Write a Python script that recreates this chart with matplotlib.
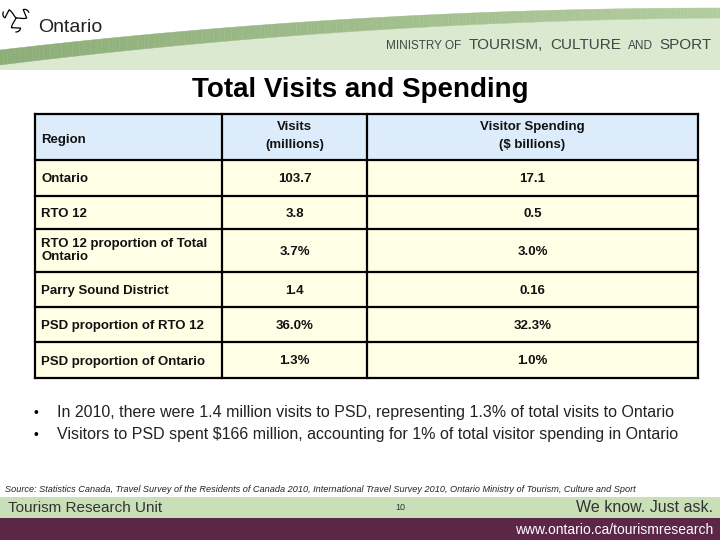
import matplotlib.pyplot as plt
import numpy as np
from matplotlib.patches import Rectangle, Polygon

# table content
col_headers = ["Region", "Visits\n(millions)", "Visitor Spending\n($ billions)"]
regions = ["Ontario", "RTO 12", "RTO 12 proportion of Total\nOntario",
           "Parry Sound District", "PSD proportion of RTO 12", "PSD proportion of Ontario"]
visits = ["103.7", "3.8", "3.7%", "1.4", "36.0%", "1.3%"]
spending = ["17.1", "0.5", "3.0%", "0.16", "32.3%", "1.0%"]

bullets = [
    "In 2010, there were 1.4 million visits to PSD, representing 1.3% of total visits to Ontario",
    "Visitors to PSD spent $166 million, accounting for 1% of total visitor spending in Ontario",
]
source = ("Source: Statistics Canada, Travel Survey of the Residents of Canada 2010, "
          "International Travel Survey 2010, Ontario Ministry of Tourism, Culture and Sport")
ministry = [("MINISTRY OF", 8.5), ("TOURISM,", 11), ("CULTURE", 11), ("AND", 8.5), ("SPORT", 11)]

plt.rcParams['font.family'] = ['Liberation Sans', 'DejaVu Sans']

fig = plt.figure(figsize=(7.2, 5.4), dpi=100)
ax = fig.add_axes([0, 0, 1, 1])
ax.set_xlim(0, 720)
ax.set_ylim(540, 0)
ax.axis("off")
fig.patch.set_facecolor("white")

# --- header banner
x = np.linspace(0, 720, 200)
t = x / 720
y_top = 50 - 42 * (1 - (1 - t) ** 2)
y_bot = y_top + 15 - 5 * t
ax.add_patch(Polygon(np.column_stack([np.r_[x, x[::-1]], np.r_[y_bot, np.full_like(x, 70)]]),
                     closed=True, facecolor="#dae9cf", edgecolor="none"))
c0 = np.array([0.55, 0.68, 0.47])
c1 = np.array([0.70, 0.80, 0.62])
for i in range(len(x) - 1):
    c = c0 + (c1 - c0) * t[i]
    ax.add_patch(Polygon([[x[i], y_top[i]], [x[i + 1], y_top[i + 1]],
                          [x[i + 1], y_bot[i + 1]], [x[i], y_bot[i]]],
                         closed=True, facecolor=c, edgecolor=c, lw=0.3))

# trillium logo (rough outline of three petals)
cx, cy = 16, 18
s = np.linspace(0, np.pi, 40)
for ang in [205, 335, 90]:
    a = np.deg2rad(ang)
    r = 14 * np.sin(s / 2)
    w = 4.5 * np.sin(s) ** 1.2 * np.sign(np.cos(s))
    px = cx + r * np.cos(a) - w * np.sin(a)
    py = cy + r * np.sin(a) + w * np.cos(a)
    ax.plot(px, py, color="black", lw=0.9)
ax.text(38, 27, "Ontario", fontsize=14, va="center", ha="left", color="#222222")

# ministry text, laid out right to left from the right edge
fig.canvas.draw()
renderer = fig.canvas.get_renderer()
xr = 712
for word, fs in reversed(ministry):
    tx = ax.text(xr, 49, word, fontsize=fs, ha="right", va="baseline", color="#444444")
    bb = tx.get_window_extent(renderer)
    xr -= bb.width + 7

# title
ax.text(360, 90, "Total Visits and Spending", fontsize=20, fontweight="bold",
        ha="center", va="center")

# --- table
col_x = [35, 222, 367, 698]
row_y = [114, 160, 196, 229, 272, 307, 342, 378]
ax.add_patch(Rectangle((col_x[0], row_y[0]), col_x[-1] - col_x[0], row_y[1] - row_y[0],
                       facecolor="#ddecfa", edgecolor="none"))
ax.add_patch(Rectangle((col_x[0], row_y[1]), col_x[-1] - col_x[0], row_y[-1] - row_y[1],
                       facecolor="#ffffe5", edgecolor="none"))
for yy in row_y:
    ax.plot([col_x[0], col_x[-1]], [yy, yy], color="black", lw=1.6, solid_capstyle="projecting")
for xx in col_x:
    ax.plot([xx, xx], [row_y[0], row_y[-1]], color="black", lw=1.6, solid_capstyle="projecting")

cell = dict(fontsize=9.5, fontweight="bold", color="#111111")
ax.text(col_x[0] + 6, (row_y[0] + row_y[1]) / 2 + 2, col_headers[0], ha="left",
        va="center_baseline", **cell)
ax.text((col_x[1] + col_x[2]) / 2, (row_y[0] + row_y[1]) / 2 - 1, col_headers[1], ha="center",
        va="center", linespacing=1.75, **cell)
ax.text((col_x[2] + col_x[3]) / 2, (row_y[0] + row_y[1]) / 2 - 1, col_headers[2], ha="center",
        va="center", linespacing=1.75, **cell)
for i, (r, v, s_) in enumerate(zip(regions, visits, spending)):
    yc = (row_y[i + 1] + row_y[i + 2]) / 2
    multi = "\n" in r
    ax.text(col_x[0] + 6, yc, r, ha="left", va="center" if multi else "center_baseline",
            linespacing=1.05, **cell)
    ax.text((col_x[1] + col_x[2]) / 2, yc, v, ha="center", va="center_baseline", **cell)
    ax.text((col_x[2] + col_x[3]) / 2, yc, s_, ha="center", va="center_baseline", **cell)

# --- bullets
for i, b in enumerate(bullets):
    yb = 413 + 22 * i
    ax.text(33, yb, "\u2022", fontsize=10, ha="left", va="center")
    ax.text(57, yb, b, fontsize=11.5, ha="left", va="center", color="#222222")

# --- footer
ax.text(5, 489, source, fontsize=6.6, style="italic", ha="left", va="center", color="#222222")
ax.add_patch(Rectangle((0, 497), 720, 21, facecolor="#c8dfb8", edgecolor="none"))
ax.add_patch(Rectangle((0, 518), 720, 22, facecolor="#5c2747", edgecolor="none"))
ax.text(8, 508, "Tourism Research Unit", fontsize=11, ha="left", va="center", color="#333333")
ax.text(400, 508, "10", fontsize=6.5, ha="center", va="center", color="#333333")
ax.text(713, 508, "We know. Just ask.", fontsize=11.5, ha="right", va="center", color="#333333")
ax.text(713, 530, "www.ontario.ca/tourismresearch", fontsize=10, ha="right", va="center",
        color="white")

fig.savefig("out.png", dpi=100)
